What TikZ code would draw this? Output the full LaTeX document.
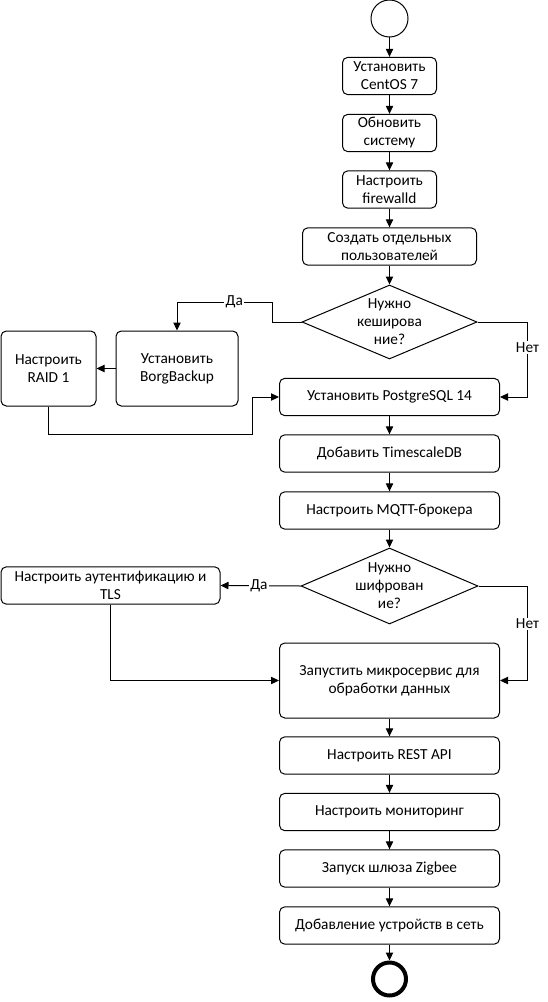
\documentclass[tikz,border=0pt]{standalone}
\usepackage{fontspec}
\setmainfont{Carlito}
\usepackage{tikz}
\usetikzlibrary{shapes.geometric,arrows.meta}
\tikzset{
  txt/.style={font=\fontsize{11.5}{13.5}\selectfont},
  box/.style={txt, draw, rounded corners=4pt, line width=0.75pt, align=center, inner sep=1pt, minimum height=28pt},
  wide/.style={box, minimum width=165pt},
  decision/.style={txt, diamond, draw, line width=0.75pt, align=center, inner sep=-8pt, shape aspect=2.36},
  term/.style={circle, draw, line width=0.75pt, inner sep=0pt, minimum size=27.75pt},
  termEnd/.style={circle, draw, line width=3pt, inner sep=0pt, minimum size=24.75pt},
  arr/.style={-{Triangle[length=6pt,width=5.5pt]}, line width=0.75pt},
  lab/.style={txt, fill=white, inner sep=1pt}
}
\begin{document}
\begin{tikzpicture}[x=0.75pt,y=-0.75pt]
\useasboundingbox (0,0) rectangle (548,1002);
\node[term] (start) at (389.5,18.5) {};
\node[box, minimum width=70.5pt] (inst) at (389.5,76) {Установить\\CentOS 7};
\node[box, minimum width=70.5pt] (upd) at (389.5,133) {Обновить\\систему};
\node[box, minimum width=70.5pt] (fw) at (389.5,189.5) {Настроить\\firewalld};
\node[box, minimum width=130.5pt] (users) at (389.5,246.5) {Создать отдельных\\пользователей};
\node[decision, minimum width=131.25pt, minimum height=55.5pt] (cache) at (389.5,322) {Нужно\\кеширова\\ние?};
\node[box, minimum width=91.5pt, minimum height=56.25pt] (borg) at (177,368.5) {Установить\\BorgBackup};
\node[box, minimum width=71.25pt, minimum height=56.25pt] (raid) at (48.5,368.5) {Настроить\\RAID 1};
\node[wide] (pg) at (389.5,397) {Установить PostgreSQL 14};
\node[wide] (tsdb) at (389.5,453.5) {Добавить TimescaleDB};
\node[wide] (mqtt) at (389.5,510.5) {Настроить MQTT-брокера};
\node[decision, minimum width=132.75pt, minimum height=57pt] (crypt) at (389.5,586) {Нужно\\шифрован\\ие?};
\node[box, minimum width=164.25pt] (tls) at (110.5,585.5) {Настроить аутентификацию и\\TLS};
\node[wide, minimum height=56.25pt] (micro) at (389.5,680.5) {Запустить микросервис для\\обработки данных};
\node[wide] (rest) at (389.5,755.5) {Настроить REST API};
\node[wide] (mon) at (389.5,812) {Настроить мониторинг};
\node[wide] (zig) at (389.5,868.5) {Запуск шлюза Zigbee};
\node[wide] (dev) at (389.5,925.5) {Добавление устройств в сеть};
\node[termEnd] (stop) at (389.5,979) {};
\draw[arr] (start) -- (inst);
\draw[arr] (inst) -- (upd);
\draw[arr] (upd) -- (fw);
\draw[arr] (fw) -- (users);
\draw[arr] (users) -- (cache);
\draw[arr] (cache.west) -- ++(-29,0) -- ++(0,-20) -| node[lab, pos=0.2] {Да} (borg.north);
\draw[arr] (borg) -- (raid);
\draw[arr] (raid.south) -- ++(0,28) -- ++(204,0) |- (pg.west);
\draw[arr] (cache.east) -- ++(50,0) |- node[lab, pos=0.17] {Нет} (pg.east);
\draw[arr] (pg) -- (tsdb);
\draw[arr] (tsdb) -- (mqtt);
\draw[arr] (mqtt) -- (crypt);
\draw[arr] (crypt.west) -- node[lab, pos=0.52] {Да} (tls.east);
\draw[arr] (tls.south) |- (micro.west);
\draw[arr] (crypt.east) -- ++(49,0) |- node[lab, pos=0.2] {Нет} (micro.east);
\draw[arr] (micro) -- (rest);
\draw[arr] (rest) -- (mon);
\draw[arr] (mon) -- (zig);
\draw[arr] (zig) -- (dev);
\draw[arr] (dev) -- (stop);
\end{tikzpicture}
\end{document}
